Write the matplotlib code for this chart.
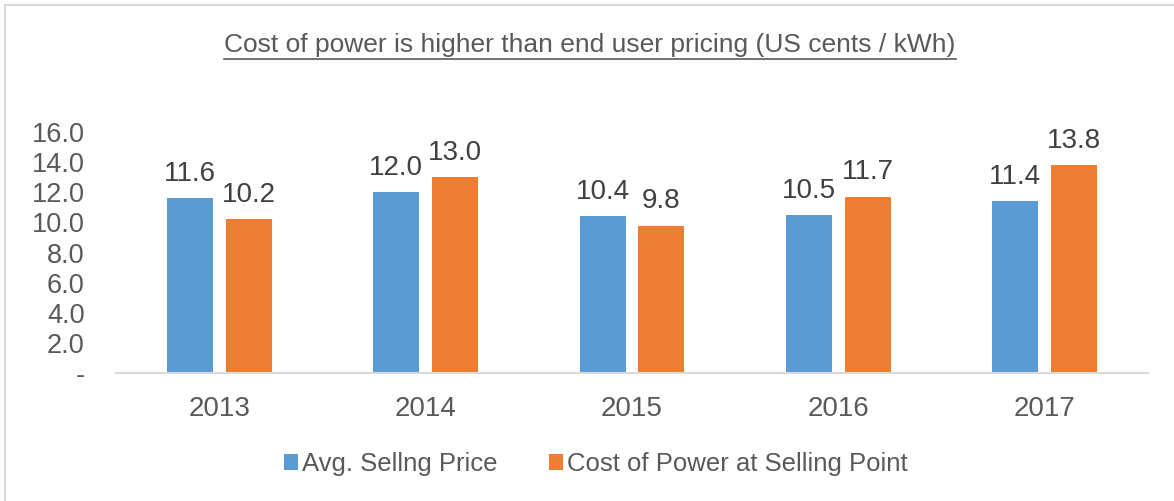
import matplotlib
matplotlib.use("Agg")
import matplotlib.pyplot as plt
import numpy as np
from matplotlib.patches import Rectangle
from matplotlib.lines import Line2D

years = ["2013", "2014", "2015", "2016", "2017"]
avg_price = [11.6, 12.0, 10.4, 10.5, 11.4]
cost_power = [10.2, 13.0, 9.8, 11.7, 13.8]
y_ticks = [0, 2, 4, 6, 8, 10, 12, 14, 16]
series_names = ["Avg. Sellng Price", "Cost of Power at Selling Point"]
title = "Cost of power is higher than end user pricing (US cents / kWh)"

BLUE = "#5B9BD5"
ORANGE = "#ED7D31"
GRID = "#D9D9D9"
TICK_COL = "#595959"
LABEL_COL = "#404040"

plt.rcParams["font.family"] = ["Liberation Sans", "DejaVu Sans"]

W, H = 1174, 501
fig = plt.figure(figsize=(W / 100, H / 100), dpi=100)
ax = fig.add_axes([116.5 / W, (H - 373.3) / H, 1031 / W, 241.3 / H])

x = np.arange(len(years))
bw = 0.223
off = 0.143
b1 = ax.bar(x - off, avg_price, bw, color=BLUE, label=series_names[0])
b2 = ax.bar(x + off, cost_power, bw, color=ORANGE, label=series_names[1])

for bars, vals in ((b1, avg_price), (b2, cost_power)):
    for rect, v in zip(bars, vals):
        ax.annotate(f"{v:.1f}", (rect.get_x() + rect.get_width() / 2, v),
                    xytext=(0, 12.5), textcoords="offset points",
                    ha="center", va="baseline", fontsize=20, color=LABEL_COL)

ax.set_xlim(-0.5, len(years) - 0.5)
ax.set_ylim(0, 16)
ax.set_xticks(x)
ax.set_xticklabels(years)
ax.set_yticks(y_ticks)
ax.set_yticklabels(["-" if t == 0 else f"{t:.1f}" for t in y_ticks])
ax.tick_params(axis="x", length=0, pad=16, labelsize=20, labelcolor=TICK_COL)
ax.tick_params(axis="y", length=0, pad=23, labelsize=19.5, labelcolor=TICK_COL)
for s in ("top", "right", "left"):
    ax.spines[s].set_visible(False)
ax.spines["bottom"].set_color(GRID)
ax.spines["bottom"].set_linewidth(1.5)

# legend
fig.legend(handles=[b1, b2], labels=series_names, loc="center",
           bbox_to_anchor=(596 / W, (H - 464) / H), ncol=2, frameon=False,
           fontsize=18.5, labelcolor=TICK_COL, handlelength=0.55, handleheight=0.55,
           handletextpad=0.15, columnspacing=2.0)

# title with underline
t = fig.text(590 / W, (H - 45) / H, title, ha="center", va="center",
             fontsize=19, color=TICK_COL)
fig.canvas.draw()
bb = t.get_window_extent(renderer=fig.canvas.get_renderer())
uy = (H - 59) / H
fig.add_artist(Line2D([bb.x0 / W, bb.x1 / W], [uy, uy], color=TICK_COL,
                      lw=1.2, transform=fig.transFigure))

# chart frame (left and top edges visible)
fig.add_artist(Rectangle((4.5 / W, -0.5), 2, (H - 4.5) / H + 0.5,
                         fill=False, edgecolor=GRID, lw=1.5,
                         transform=fig.transFigure))

fig.savefig("out.png", dpi=100)
